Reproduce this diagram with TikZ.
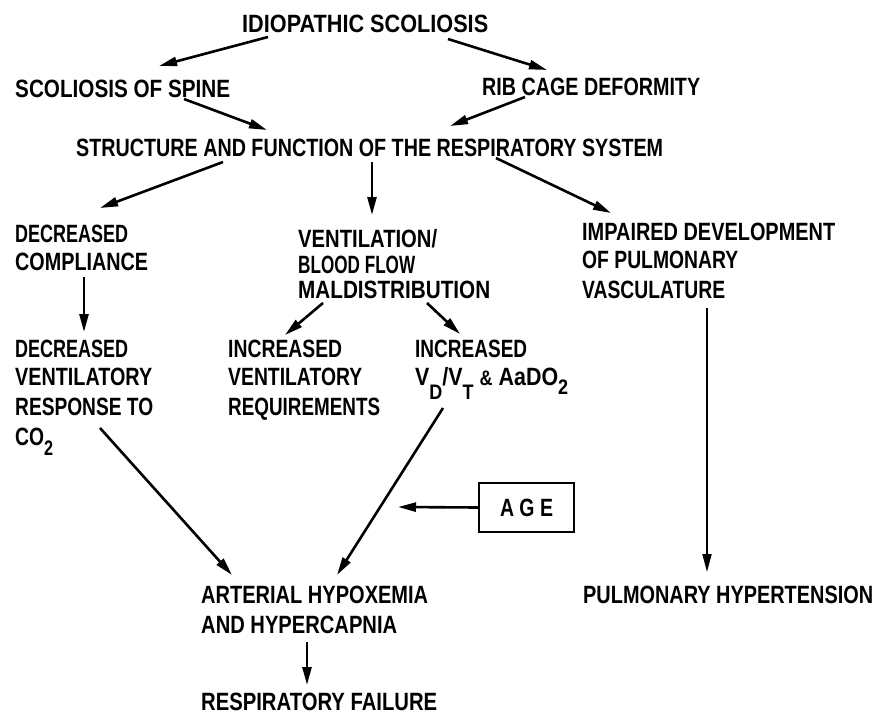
\documentclass[tikz,border=0pt]{standalone}
\usepackage{fontspec}
\usepackage{graphicx}
\setmainfont{Liberation Sans}
\usetikzlibrary{arrows.meta}
\newlength\fwtmp
\newcommand{\fw}[2]{\settowidth{\fwtmp}{#2}\pgfmathsetmacro\fwr{#1/\fwtmp}\scalebox{\fwr}[1]{#2}}
\newcommand{\lowsub}[2]{\raisebox{-#1pt}{\fontsize{21}{21}\selectfont #2}}
\begin{document}
\begin{tikzpicture}[x=1pt,y=-1pt,
  txt/.style={inner sep=0pt, anchor=base west, font=\fontsize{25}{29}\selectfont\bfseries},
  arr/.style={line width=2.6pt, -{Triangle[length=18pt,width=9pt]}},
  boxed/.style={draw, line width=2.4pt, inner sep=0pt, minimum width=95pt, minimum height=49pt, anchor=center, font=\fontsize{25}{29}\selectfont\bfseries}]
\useasboundingbox (0,0) rectangle (889,715);
% texts
\node[txt] (title) at (242,32) {\fw{246}{IDIOPATHIC SCOLIOSIS}};
\node[txt] (sos) at (15,97) {\fw{215}{SCOLIOSIS OF SPINE}};
\node[txt] (rib) at (482,95) {\fw{218}{RIB CAGE DEFORMITY}};
\node[txt] (str) at (76,156) {\fw{587}{STRUCTURE AND FUNCTION OF THE RESPIRATORY SYSTEM}};
\node[txt] (dc1) at (15,242) {\fw{113}{DECREASED}};
\node[txt] (dc2) at (15,270) {\fw{133}{COMPLIANCE}};
\node[txt] (vb1) at (298,247) {\fw{139}{VENTILATION/}};
\node[txt] (vb2) at (298,273) {\fw{117}{BLOOD FLOW}};
\node[txt] (vb3) at (298,298) {\fw{192}{MALDISTRIBUTION}};
\node[txt] (im1) at (582,240) {\fw{253}{IMPAIRED DEVELOPMENT}};
\node[txt] (im2) at (582,268) {\fw{156}{OF PULMONARY}};
\node[txt] (im3) at (582,298) {\fw{143}{VASCULATURE}};
\node[txt] (dv1) at (15,357) {\fw{113}{DECREASED}};
\node[txt] (dv2) at (15,385) {\fw{137}{VENTILATORY}};
\node[txt] (dv3) at (15,415) {\fw{138}{RESPONSE TO}};
\node[txt] (dv4) at (15,445) {\fw{38}{CO\lowsub{10}{2}}};
\node[txt] (iv1) at (228,357) {\fw{114}{INCREASED}};
\node[txt] (iv2) at (228,385) {\fw{134}{VENTILATORY}};
\node[txt] (iv3) at (228,415) {\fw{152}{REQUIREMENTS}};
\node[txt] (ia1) at (415,357) {\fw{112}{INCREASED}};
\node[txt] (ia2) at (415,385) {\fw{153}{V\lowsub{14}{D}/V\lowsub{14}{T} {\fontsize{21}{21}\selectfont\&} AaDO\lowsub{9}{2}}};
\node[txt] (ah1) at (201,603) {\fw{227}{ARTERIAL HYPOXEMIA}};
\node[txt] (ah2) at (201,633) {\fw{196}{AND HYPERCAPNIA}};
\node[txt] (rf) at (201,710) {\fw{236}{RESPIRATORY FAILURE}};
\node[txt] (ph) at (583,603) {\fw{290}{PULMONARY HYPERTENSION}};
\node[boxed] (age) at (526.5,507.5) {\fw{53}{A G E}};
% connector end points
\coordinate (t1) at (268,37);  \coordinate (h1) at (159,66);
\coordinate (t2) at (448,39);  \coordinate (h2) at (547,70);
\coordinate (t3) at (184,99);  \coordinate (h3) at (267,130);
\coordinate (t4) at (525,97);  \coordinate (h4) at (450,126);
\coordinate (t5) at (223,162); \coordinate (h5) at (100,208);
\coordinate (t6) at (372,162); \coordinate (h6) at (372,215);
\coordinate (t7) at (496,158); \coordinate (h7) at (611,213);
\coordinate (t8) at (84,277);  \coordinate (h8) at (84,332);
\coordinate (t9) at (323,303); \coordinate (h9) at (285,335);
\coordinate (t10) at (427,303); \coordinate (h10) at (460,334);
\coordinate (t11) at (707,308); \coordinate (h11) at (707,572);
\coordinate (t12) at (100,428); \coordinate (h12) at (232,575);
\coordinate (t13) at (443,408); \coordinate (h13) at (337,575);
\coordinate (h14) at (398,507);
\coordinate (t15) at (307,642); \coordinate (h15) at (307,685);
% connectors
\draw[arr] (t1) -- (h1);
\draw[arr] (t2) -- (h2);
\draw[arr] (t3) -- (h3);
\draw[arr] (t4) -- (h4);
\draw[arr] (t5) -- (h5);
\draw[arr] (t6) -- (h6);
\draw[arr] (t7) -- (h7);
\draw[arr] (t8) -- (h8);
\draw[arr] (t9) -- (h9);
\draw[arr] (t10) -- (h10);
\draw[arr, line width=2pt] (t11) -- (h11);
\draw[arr] (t12) -- (h12);
\draw[arr] (t13) -- (h13);
\draw[arr] (age.west) -- (h14);
\draw[arr] (t15) -- (h15);
\end{tikzpicture}
\end{document}
